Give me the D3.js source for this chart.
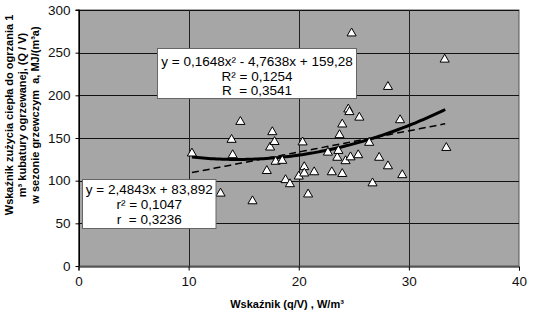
<!DOCTYPE html>
<html>
<head>
<meta charset="utf-8">
<script src="https://cdn.jsdelivr.net/npm/d3@7"></script>
<style>
  html, body { margin: 0; padding: 0; background: #fff; }
  svg { display: block; font-family: "Liberation Sans", Arial, sans-serif; }
  svg text { white-space: pre; }
</style>
</head>
<body>
<svg id="chart" width="534" height="322"></svg>
<script>
// Building measurements: heating indicator q/V [W/m3] vs. seasonal heat use Q/V [MJ/(m3a)]
const qv = [10.3, 12.9, 13.9, 14.0, 14.7, 15.8, 17.1, 17.4, 17.6, 17.8, 17.9, 18.5, 18.8, 19.2,
            20.0, 20.35, 20.5, 20.5, 20.85, 21.4, 22.65, 23.0, 23.5, 23.6, 23.7, 23.95, 23.95,
            24.25, 24.5, 24.6, 24.7, 24.8, 25.4, 25.5, 26.4, 26.7, 27.3, 28.1, 28.1, 29.2, 29.4,
            33.25, 33.4];
const QV = [132, 85, 148, 130, 169, 76, 111.5, 139, 157, 145.5, 122.3, 123.4, 100.8, 96,
            105, 145, 116, 108.6, 84, 110, 133, 110, 127, 135, 153.5, 166, 108,
            123, 183.6, 180.5, 127.5, 272.7, 130, 174, 144.5, 97, 127, 117, 210, 171, 106.6,
            242, 138.5];

// Trend line coefficients (highest power first)
const polyCoef = [0.1648, -4.7638, 159.28];
const linCoef = [2.4843, 83.892];
const trendRange = [10.3, 33.4];

const xTicks = [0, 10, 20, 30, 40];
const yTicks = [0, 50, 100, 150, 200, 250, 300];

const polyLabel = ["y = 0,1648x² - 4,7638x + 159,28", "R² = 0,1254", "R  = 0,3541"];
const linLabel = ["y = 2,4843x + 83,892", "r² = 0,1047", "r  = 0,3236"];
const yTitle = ["Wskaźnik zużycia ciepła do ogrzania 1",
                "m³ kubatury ogrzewanej, (Q / V)",
                "w sezonie grzewczym  a, MJ/(m³a)"];
const xTitle = "Wskaźnik (q/V) , W/m³";

const svg = d3.select("#chart");
const x = d3.scaleLinear().domain([0, 40]).range([78.5, 519]);
const y = d3.scaleLinear().domain([0, 300]).range([266, 10]);

// plot area
svg.append("rect")
  .attr("x", x(0)).attr("y", y(300))
  .attr("width", x(40) - x(0)).attr("height", y(0) - y(300))
  .attr("fill", "#a6a6a6").attr("stroke", "#555").attr("stroke-width", 1);

// gridlines
svg.append("g").selectAll("line").data(yTicks.slice(1)).join("line")
  .attr("x1", x(0)).attr("x2", x(40))
  .attr("y1", d => Math.round(y(d)) + 0.5).attr("y2", d => Math.round(y(d)) + 0.5)
  .attr("stroke", "#111").attr("stroke-width", 1);
svg.append("g").selectAll("line").data(xTicks.slice(1, -1)).join("line")
  .attr("x1", d => Math.round(x(d)) + 0.5).attr("x2", d => Math.round(x(d)) + 0.5)
  .attr("y1", y(0)).attr("y2", y(300))
  .attr("stroke", "#222").attr("stroke-width", 1);

// axes
const xAxis = d3.axisBottom(x).tickValues(xTicks).tickSize(4).tickPadding(6).tickFormat(d3.format("d"));
const yAxis = d3.axisLeft(y).tickValues(yTicks).tickSize(4).tickPadding(5).tickFormat(d3.format("d"));
const gx = svg.append("g").attr("transform", `translate(0,${Math.round(y(0)) + 0.5})`).call(xAxis);
const gy = svg.append("g").attr("transform", `translate(${Math.round(x(0)) + 0.5},0)`).call(yAxis);
[gx, gy].forEach(g => {
  g.select(".domain").attr("stroke", "#000").attr("stroke-width", 1);
  g.selectAll(".tick line").attr("stroke", "#000");
  g.selectAll(".tick text").attr("fill", "#111")
    .style("font-family", "'Liberation Sans', Arial, sans-serif").style("font-size", "13.5px");
});
gy.select(".domain").attr("d", `M-4,${y(300)}H0V${y(0)}`);

// trend lines
const polyF = v => polyCoef[0] * v * v + polyCoef[1] * v + polyCoef[2];
const linF = v => linCoef[0] * v + linCoef[1];
const xs = d3.range(trendRange[0], trendRange[1] + 0.001, 0.25);
const line = d3.line().x(d => x(d[0])).y(d => y(d[1]));
svg.append("path").datum(xs.map(v => [v, linF(v)])).attr("d", line)
  .attr("fill", "none").attr("stroke", "#000").attr("stroke-width", 1.5)
  .attr("stroke-dasharray", "7,4");
svg.append("path").datum(xs.map(v => [v, polyF(v)])).attr("d", line)
  .attr("fill", "none").attr("stroke", "#000").attr("stroke-width", 3);

// points
const tri = d3.symbol(d3.symbolTriangle, 36);
svg.append("g").selectAll("path").data(qv.map((v, i) => [v, QV[i]])).join("path")
  .attr("d", tri)
  .attr("transform", d => `translate(${x(d[0])},${y(d[1])})`)
  .attr("fill", "#fff").attr("stroke", "#000").attr("stroke-width", 1);

// equation boxes
function eqBox(x0, y0, w, h, lines, lineY) {
  const g = svg.append("g");
  g.append("rect").attr("x", x0).attr("y", y0).attr("width", w).attr("height", h)
    .attr("fill", "#fff").attr("stroke", "#666").attr("stroke-width", 1);
  g.selectAll("text").data(lines).join("text")
    .attr("x", x0 + w / 2).attr("y", (d, i) => lineY[i])
    .attr("text-anchor", "middle").attr("dominant-baseline", "central")
    .style("font-size", "13.5px").attr("fill", "#000")
    .text(d => d);
}
eqBox(157.5, 48.5, 199, 50, polyLabel, [61.5, 76, 90.5]);
eqBox(82.5, 179.5, 133.5, 49, linLabel, [189, 204, 219]);

// axis titles
svg.append("text").attr("x", 287).attr("y", 304)
  .attr("text-anchor", "middle").attr("dominant-baseline", "central")
  .style("font-size", "11px").style("font-weight", "bold").attr("fill", "#000")
  .text(xTitle);
const yt = svg.append("g").attr("transform", "translate(0,115) rotate(-90)");
yt.selectAll("text").data(yTitle).join("text")
  .attr("x", 0).attr("y", (d, i) => 9 + i * 13)
  .attr("text-anchor", "middle").attr("dominant-baseline", "central")
  .style("font-size", "11px").style("font-weight", "bold").attr("fill", "#000")
  .text(d => d);
</script>
</body>
</html>
